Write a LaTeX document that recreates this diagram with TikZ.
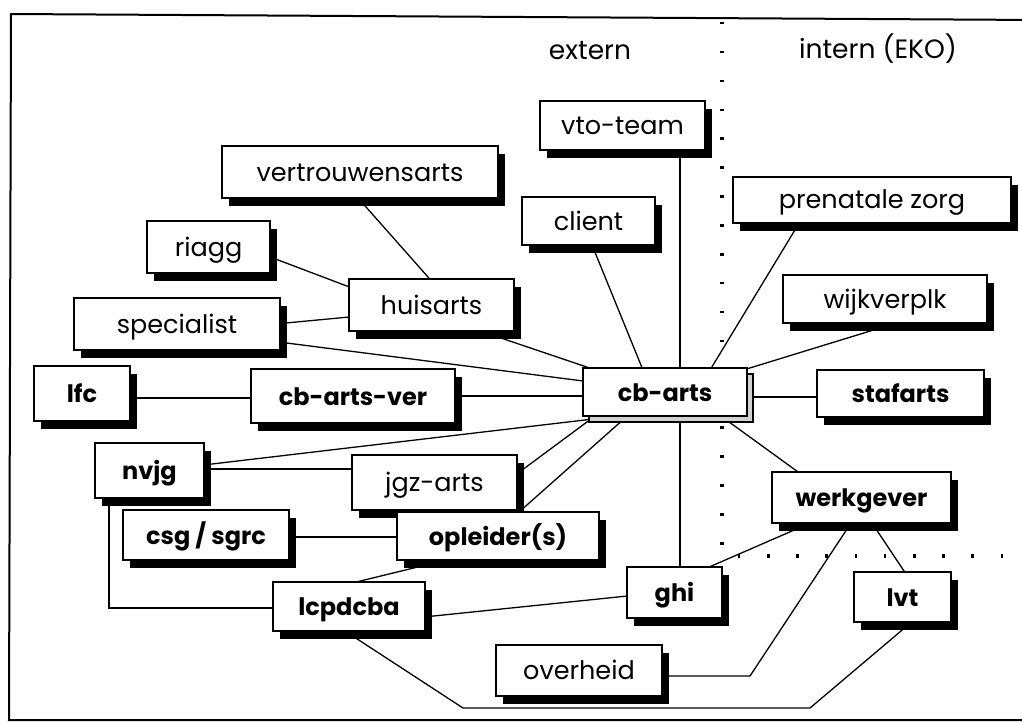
\documentclass[tikz,border=0pt]{standalone}
\usepackage{fontspec}
\setmainfont{Poppins}
\usetikzlibrary{shadows,calc,backgrounds}
\begin{document}
\begin{tikzpicture}[x=1pt,y=-1pt,
  box/.style={draw, line width=2pt, fill=white, inner sep=0pt,
    font=\fontsize{25.5}{28}\selectfont, text height=20pt, text depth=2pt,
    drop shadow={shadow xshift=7pt, shadow yshift=-8pt, fill=black, opacity=1}},
  bbox/.style={box, font=\fontsize{24}{27}\selectfont\bfseries},
  hbox/.style={draw, line width=2.6pt, fill=white, inner sep=0pt,
    font=\fontsize{24}{27}\selectfont\bfseries, text height=21pt, text depth=2pt,
    drop shadow={shadow xshift=6pt, shadow yshift=-6pt, fill=black!18, draw=black, line width=1.6pt, opacity=1}},
  link/.style={line width=1.3pt},
  head/.style={font=\fontsize{26.5}{29}\selectfont, text height=17pt, text depth=4pt, inner sep=0pt}
]
\useasboundingbox (0,0) rectangle (1022,724);
\draw[line width=2pt] (1040,20) -- (11,14) -- (9,720) -- (1040,720);

\node[head] (ext) at (590,53) {extern};
\node[head] (int) at (878,52) {intern (EKO)};

% boxes
\node[box, minimum width=165pt, minimum height=49pt] (vto) at (622.5,125.5) {vto-team};
\node[box, minimum width=276pt, minimum height=52pt] (vtr) at (360,172) {vertrouwensarts};
\node[box, minimum width=133pt, minimum height=48pt] (cli) at (588.5,221) {client};
\node[box, minimum width=123pt, minimum height=52pt] (ria) at (208.5,247) {riagg};
\node[box, minimum width=278pt, minimum height=46pt] (pre) at (872,199.5) {prenatale zorg};
\node[box, minimum width=165pt, minimum height=52pt] (hui) at (431.5,305) {huisarts};
\node[box, minimum width=206pt, minimum height=52pt] (spe) at (177,324) {specialist};
\node[box, minimum width=204pt, minimum height=48pt] (wijk) at (885,299) {wijkverplk};
\node[bbox, minimum width=96pt, minimum height=55pt] (lfc) at (82,393.5) {lfc};
\node[bbox, minimum width=204pt, minimum height=54pt] (cbv) at (353,396) {cb-arts-ver};
\node[hbox, minimum width=164pt, minimum height=48pt] (cb) at (665,392) {cb-arts};
\node[bbox, minimum width=167pt, minimum height=47pt] (staf) at (900.5,393.5) {stafarts};
\node[bbox, minimum width=109pt, minimum height=55pt] (nvjg) at (149.5,470.5) {nvjg};
\node[box, minimum width=165pt, minimum height=55pt] (jgz) at (434.5,482.5) {jgz-arts};
\node[bbox, minimum width=179pt, minimum height=51pt] (werk) at (861.5,497.5) {werkgever};
\node[bbox, minimum width=166pt, minimum height=50pt] (csg) at (206,535) {csg / sgrc};
\node[bbox, minimum width=202pt, minimum height=48pt] (opl) at (498,536) {opleider(s)};
\node[bbox, minimum width=95pt, minimum height=51pt] (ghi) at (674.5,592.5) {ghi};
\node[bbox, minimum width=97pt, minimum height=50pt] (lvt) at (902.5,597) {lvt};
\node[bbox, minimum width=152pt, minimum height=49pt] (lcp) at (349,606.5) {lcpdcba};
\node[box, minimum width=166pt, minimum height=51pt] (ovh) at (579,670.5) {overheid};

\coordinate (b1) at (463,708);
\coordinate (b2) at (810,708);
\coordinate (c1) at (750,676);

\begin{pgfonlayer}{background}
  \foreach \k in {0,...,18} \fill ({720},{21.8+28.9*\k}) rectangle ++(4,2.5);
  \foreach \k in {0,...,9} \fill ({737.8+29.2*\k},{554}) rectangle ++(2.5,4);

  \draw[link] ($(vtr)+(-9,18)$) -- ($(hui)+(8,-15)$);
  \draw[link] ($(ria)+(56.5,8)$) -- ($(hui)+(-71.5,-14)$);
  \draw[link] ($(spe)+(98,0)$) -- ($(hui)+(-71.5,11)$);
  \draw[link] ($(spe)+(98,17.5)$) -- ($(cb)+(-70,-9.5)$);
  \draw[link] ($(hui)+(63.5,31)$) -- ($(cb)+(-65,-20.5)$);
  \draw[link] ($(cli)+(1.5,19)$) -- ($(cb)+(-20,-17)$);
  \draw[link] ($(vto)+(57.5,14.5)$) -- ($(ghi)+(5.5,-12.5)$);
  \draw[link] ($(pre)+(-68,15.5)$) -- ($(cb)+(42,-17)$);
  \draw[link] ($(wijk)+(-5,29)$) -- ($(cb)+(75,-21)$);
  \draw[link] ($(cb)+(75,5)$) -- ($(staf)+(-70.5,3.5)$);
  \draw[link] ($(cb)+(60,27)$) -- ($(werk)+(-56.5,-20.5)$);
  \draw[link] ($(cb)+(-40,26)$) -- ($(opl)+(12,-16)$);
  \draw[link] ($(jgz)+(75.5,-3.5)$) -- ($(cb)+(-70,24)$);
  \draw[link] ($(nvjg)+(45.5,-4.5)$) -- ($(cb)+(-65,26.2)$);
  \draw[link] ($(nvjg)+(45.5,-1.5)$) -- ($(jgz)+(-69.5,-13.5)$);
  \draw[link] ($(lfc)+(40,4.5)$) -- ($(cbv)+(-90,2)$);
  \draw[link] ($(cbv)+(90,0)$) -- ($(cb)+(-70,4)$);
  \draw[link] ($(nvjg)+(-40.5,19.5)$) |- ($(lcp)+(-59,1.5)$);
  \draw[link] ($(csg)+(70,2)$) -- ($(opl)+(-90,1)$);
  \draw[link] ($(opl)+(-68,28)$) -- ($(lcp)+(1,-23)$);
  \draw[link] ($(lcp)+(66,11.4)$) -- ($(ghi)+(-34.5,2.2)$);
  \draw[link] ($(lcp)+(-4,24.5)$) -- (b1) -- (b2) -- ($(lvt)+(11.5,23)$);
  \draw[link] ($(werk)+(-8.5,22.5)$) -- (c1) -- ($(ovh)+(71,5.5)$);
  \draw[link] ($(werk)+(-61.5,30)$) -- ($(ghi)+(25.5,-21.5)$);
  \draw[link] ($(werk)+(8.5,22.5)$) -- ($(lvt)+(7.5,-17)$);
\end{pgfonlayer}
\end{tikzpicture}
\end{document}
